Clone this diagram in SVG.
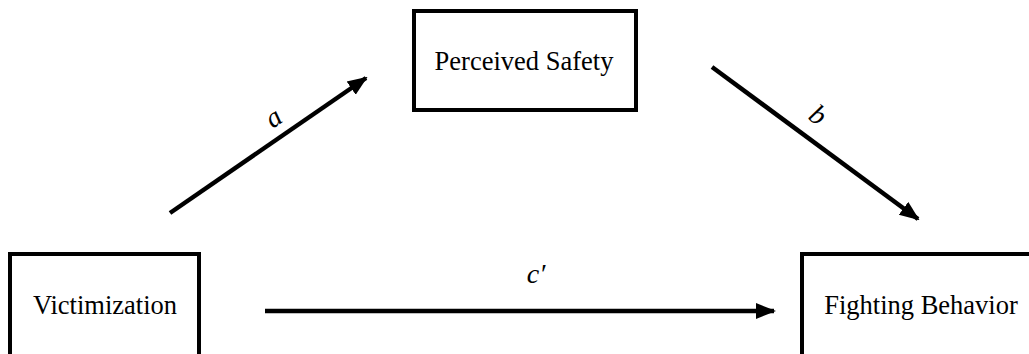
<svg xmlns="http://www.w3.org/2000/svg" width="1029" height="354" viewBox="0 0 1029 354">
<style>
.box{fill:#fff;stroke:#000;stroke-width:4}
.lbl{font-family:"Liberation Serif",serif;font-size:26.5px;fill:#000;text-anchor:middle}
.path{font-family:"Liberation Serif",serif;font-style:italic;font-size:28px;fill:#000;text-anchor:middle}
.conn{stroke:#000;stroke-width:4.5;fill:none;marker-end:url(#ah)}
</style>
<defs>
<marker id="ah" markerUnits="userSpaceOnUse" markerWidth="20" markerHeight="18" refX="18" refY="9" orient="auto">
<path d="M0,1 L20,9 L0,17 Z" fill="#000"/>
</marker>
</defs>
<rect width="1029" height="354" fill="#fff"/>
<g id="victimization">
<rect class="box" x="10" y="254" width="189" height="110"/>
<text class="lbl" x="105" y="314">Victimization</text>
</g>
<g id="perceived-safety">
<rect class="box" x="414" y="11" width="222" height="99"/>
<text class="lbl" x="524" y="70">Perceived Safety</text>
</g>
<g id="fighting-behavior">
<rect class="box" x="802" y="254" width="240" height="110"/>
<text class="lbl" x="921" y="314">Fighting Behavior</text>
</g>
<g id="connectors">
<line class="conn" x1="170" y1="213" x2="366" y2="78"/>
<line class="conn" x1="712" y1="67" x2="918" y2="219"/>
<line class="conn" x1="265" y1="311" x2="774" y2="311"/>
<text class="path" transform="translate(275,120) rotate(-35) translate(0,6)">a</text>
<text class="path" transform="translate(818,115) rotate(36) translate(0,9)">b</text>
<text class="path" x="536" y="283">c′</text>
</g>
</svg>
